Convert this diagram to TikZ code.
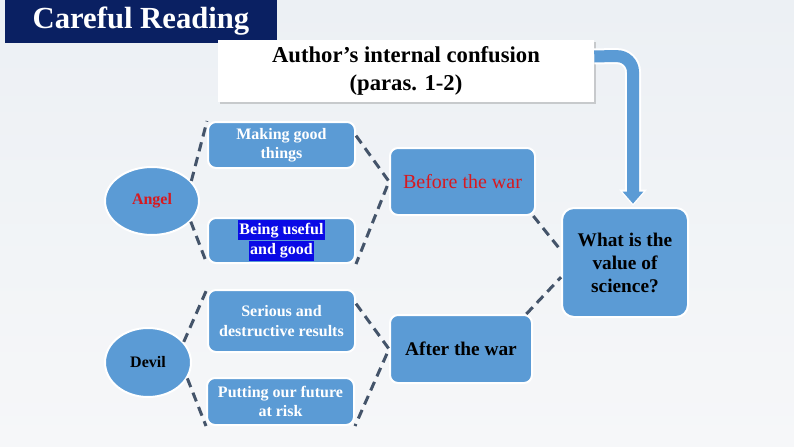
\documentclass[tikz,border=0pt]{standalone}
\usepackage{fontspec}
\setmainfont{LiberationSerif}[Extension=.ttf, UprightFont=*-Regular, BoldFont=*-Bold, ItalicFont=*-Italic, BoldItalicFont=*-BoldItalic]
\usetikzlibrary{shapes.geometric,arrows.meta,shadows}
\definecolor{bgtop}{HTML}{ECF0F4}
\definecolor{bgbot}{HTML}{F6F7F9}
\definecolor{navy}{HTML}{0A2062}
\definecolor{boxblue}{HTML}{5B9BD5}
\definecolor{dashc}{HTML}{44546A}
\definecolor{redt}{HTML}{D7191F}
\definecolor{hlblue}{HTML}{0A0AE6}
\tikzset{
  bbox/.style={draw=white, line width=1.5pt, fill=boxblue, rounded corners=6pt, align=center, inner sep=2pt},
  oval/.style={ellipse, draw=white, line width=1.5pt, fill=boxblue, inner sep=0pt},
  wtext/.style={text=white, font=\bfseries\fontsize{12}{14.5}\selectfont},
  hl/.style={fill=hlblue, text=white, font=\bfseries\fontsize{12}{14}\selectfont, inner xsep=1pt, inner ysep=0pt, minimum height=15pt, text height=9pt, text depth=3pt},
  dashline/.style={draw=dashc, line width=2.25pt, dash pattern=on 7pt off 4.5pt},
}
\begin{document}
\begin{tikzpicture}[x=0.75pt, y=-0.75pt]
\useasboundingbox (0,0) rectangle (794,447);
\shade[top color=bgtop, bottom color=bgbot] (0,0) rectangle (794,447);

% title
\node[fill=navy, minimum width=204pt, minimum height=32.25pt, inner sep=0pt, text=white,
      font=\bfseries\fontsize{23}{26}\selectfont] (title) at (141,21.5) {Careful Reading};

% author box
\node[fill=white, drop shadow={opacity=0.35, shadow xshift=1.5pt, shadow yshift=-1.5pt},
      minimum width=282pt, minimum height=46.5pt, align=center, inner sep=0pt,
      font=\bfseries\fontsize{17}{21}\selectfont] (author) at (406,71)
      {Author’s internal confusion\\(paras. 1-2)};

% left boxes
\node[bbox, minimum width=110.25pt, minimum height=34.5pt, wtext] (mg) at (281.5,145) {Making good\\things};
\node[bbox, minimum width=110.25pt, minimum height=33.75pt] (bu) at (281.5,240.5) {};
\node[hl, anchor=south] (bu1) at (bu.center) {Being useful};
\node[hl, anchor=north] (bu2) at (bu.center) {and good};
\node[bbox, minimum width=110.25pt, minimum height=46.5pt, wtext] (sd) at (281.5,321) {Serious and\\destructive results};
\node[bbox, minimum width=110.25pt, minimum height=35.25pt, wtext] (pf) at (280.5,401.5) {Putting our future\\at risk};

% ellipses
\node[oval, minimum width=70.5pt, minimum height=51pt, text=redt, font=\bfseries\fontsize{12}{14}\selectfont] (angel) at (152,201) {Angel};
\node[oval, minimum width=64.5pt, minimum height=51.75pt, text=black, font=\bfseries\fontsize{12}{14}\selectfont] (devil) at (148,362.5) {Devil};

% middle boxes
\node[bbox, minimum width=108.75pt, minimum height=50.25pt, text=redt, font=\fontsize{15}{18}\selectfont] (bw) at (462.5,181.5) {Before the war};
\node[bbox, minimum width=106.5pt, minimum height=51pt, text=black, font=\bfseries\fontsize{14.5}{17}\selectfont] (aw) at (461,349) {After the war};

% question box
\node[bbox, rounded corners=9pt, minimum width=94.5pt, minimum height=81.75pt, text=black, font=\bfseries\fontsize{14.5}{17.25}\selectfont] (q) at (625,262.5) {What is the\\value of\\science?};

% dashed connectors
\draw[dashline] (angel.27) -- (mg.north west);
\draw[dashline] (angel.-28) -- (bu.south west);
\draw[dashline] (devil.30) -- (sd.north west);
\draw[dashline] (devil.-22) -- (pf.south west);
\draw[dashline] ([yshift=-11pt]mg.north east) -- (bw.west) -- (bu.south east);
\draw[dashline] ([yshift=-11pt]sd.north east) -- (aw.west) -- (pf.south east);
\draw[dashline] ([xshift=-2pt]bw.south east) -- ([yshift=9pt]q.west);
\draw[dashline] ([xshift=-5pt]aw.north east) -- ([yshift=-11pt]q.west);

% big arrow
\coordinate (ac) at (633,56);
\draw[white, line width=12pt, rounded corners=12pt, -{Triangle[width=20pt,length=12pt]}, shorten >=1pt]
  ([yshift=11pt]author.east) -- (ac) -- (ac |- q.north);
\draw[boxblue, line width=9pt, rounded corners=12pt, -{Triangle[width=15pt,length=9pt]}, shorten >=2.5pt]
  ([yshift=11pt]author.east) -- (ac) -- (ac |- q.north);
\end{tikzpicture}
\end{document}
